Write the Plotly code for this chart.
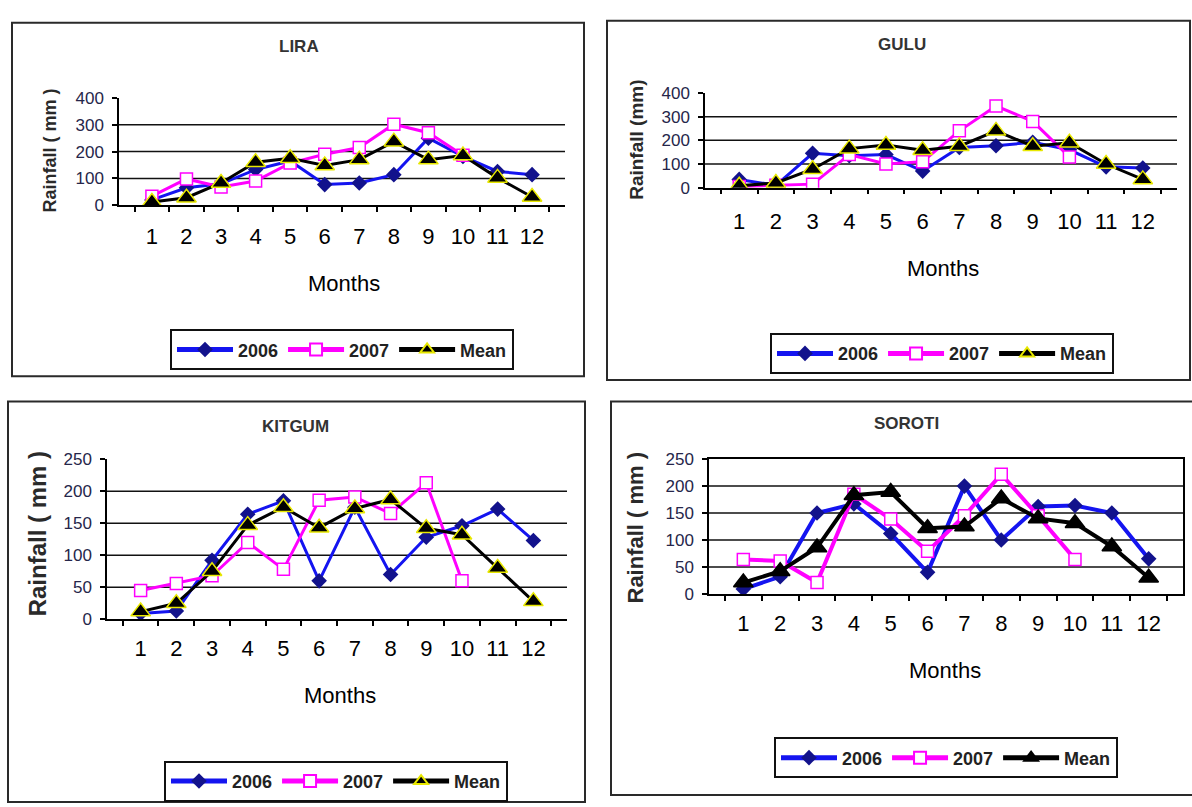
import plotly.graph_objects as go

W, H = 1192, 807

months = [str(m) for m in range(1, 13)]
months_2007 = months[:10]

# Monthly rainfall (mm) per station
lira_2006 = [20, 65, 80, 133, 165, 77, 83, 114, 250, 182, 126, 114]
lira_2007 = [34, 98, 68, 90, 157, 190, 215, 302, 270, 186]
lira_mean = [12, 28, 83, 160, 175, 148, 170, 237, 170, 185, 102, 31]

gulu_2006 = [35, 10, 145, 135, 140, 70, 170, 177, 192, 160, 88, 83]
gulu_2007 = [5, 10, 15, 140, 100, 110, 240, 345, 280, 130]
gulu_mean = [8, 20, 78, 165, 180, 158, 175, 240, 175, 190, 100, 35]

kitgum_2006 = [9, 13, 92, 164, 185, 60, 175, 70, 128, 146, 172, 123]
kitgum_2007 = [45, 56, 68, 120, 78, 186, 191, 165, 213, 60]
kitgum_mean = [12, 25, 75, 147, 175, 143, 173, 187, 142, 132, 80, 28]

soroti_2006 = [9, 32, 150, 167, 112, 40, 200, 100, 162, 164, 150, 65]
soroti_2007 = [64, 61, 21, 185, 139, 79, 145, 222, 145, 64]
soroti_mean = [21, 42, 86, 183, 189, 122, 125, 177, 140, 131, 88, 30]

FONT = "Liberation Sans, Arial, sans-serif"

# Layout of each panel in pixels
panels = [
    dict(name="LIRA", d06=lira_2006, d07=lira_2007, mean=lira_mean,
         ymax=400, dtick=100, grid=[100, 200, 300],
         box=(12, 14, 584, 376), plot=(119, 91, 565, 201),
         title=(299, 38), ytitle="Rainfall ( mm )", ytitle_pos=(50, 145), ytitle_size=18,
         months_pos=(344, 281), legend=(170, 328), xstand=12, frame=False,
         mean_outline="#E8E800", lw=3),
    dict(name="GULU", d06=gulu_2006, d07=gulu_2007, mean=gulu_mean,
         ymax=400, dtick=100, grid=[100, 200, 300],
         box=(607, 12, 1190, 380), plot=(705, 86, 1177, 183),
         title=(902, 36), ytitle="Rainfall (mm)", ytitle_pos=(637, 134), ytitle_size=19,
         months_pos=(943, 266), legend=(770, 332), xstand=14, frame=False,
         mean_outline="#E8E800", lw=3),
    dict(name="KITGUM", d06=kitgum_2006, d07=kitgum_2007, mean=kitgum_mean,
         ymax=250, dtick=50, grid=[50, 100, 150, 200],
         box=(8, 402, 585, 812), plot=(107, 461, 567, 625),
         title=(295, 428), ytitle="Rainfall ( mm )", ytitle_pos=(37, 538), ytitle_size=24,
         months_pos=(340, 703), legend=(164, 770), xstand=10, frame=False,
         mean_outline="#E8E800", lw=3),
    dict(name="SOROTI", d06=soroti_2006, d07=soroti_2007, mean=soroti_mean,
         ymax=250, dtick=50, grid=[50, 100, 150, 200],
         box=(611, 402, 1196, 805), plot=(709, 461, 1183, 599),
         title=(906, 425), ytitle="Rainfall ( mm )", ytitle_pos=(635, 531), ytitle_size=22,
         months_pos=(945, 677), legend=(774, 746), xstand=10, frame=True,
         mean_outline="#000000", lw=4),
]

fig = go.Figure()
shapes = []
annotations = []

for i, p in enumerate(panels):
    sfx = "" if i == 0 else str(i + 1)
    xref, yref = "x" + sfx, "y" + sfx
    leg = "legend" + sfx

    fig.add_trace(go.Scatter(
        x=months, y=p["d06"], name="2006", mode="lines+markers",
        xaxis=xref, yaxis=yref, legend=leg,
        line=dict(color="#1414F0", width=p["lw"]),
        marker=dict(symbol="diamond", size=12, color="#12128C",
                    line=dict(color="#12128C", width=0)),
    ))
    fig.add_trace(go.Scatter(
        x=months_2007, y=p["d07"], name="2007", mode="lines+markers",
        xaxis=xref, yaxis=yref, legend=leg,
        line=dict(color="#FF00FF", width=p["lw"]),
        marker=dict(symbol="square", size=12, color="white",
                    line=dict(color="#FF00FF", width=1.5)),
    ))
    fig.add_trace(go.Scatter(
        x=months, y=p["mean"], name="Mean", mode="lines+markers",
        xaxis=xref, yaxis=yref, legend=leg,
        line=dict(color="black", width=p["lw"]),
        marker=dict(symbol="triangle-up", size=17, color="black",
                    line=dict(color=p["mean_outline"], width=1.5)),
    ))

    x0, y0, x1, y1 = p["plot"]
    xa = dict(
        domain=[x0 / W, x1 / W], anchor=yref, type="category",
        categoryorder="array", categoryarray=months,
        tickson="boundaries", ticks="outside", ticklen=5, tickwidth=1.5,
        tickcolor="black", showline=True, linecolor="black", linewidth=1.5,
        showgrid=False, zeroline=False, fixedrange=True,
        tickfont=dict(family=FONT, size=22, color="black"),
        ticklabelstandoff=p["xstand"] - 1, mirror=p["frame"],
    )
    ya = dict(
        domain=[1 - y1 / H, 1 - y0 / H], anchor=xref,
        range=[0, p["ymax"]], dtick=p["dtick"], tick0=0,
        ticks="outside", ticklen=5, tickwidth=1.5, tickcolor="black",
        showline=True, linecolor="black", linewidth=1.5,
        showgrid=False, zeroline=False, fixedrange=True,
        tickfont=dict(family=FONT, size=17, color="#26264A"),
        ticklabelstandoff=5, mirror=p["frame"],
    )
    fig.update_layout(**{"xaxis" + sfx: xa, "yaxis" + sfx: ya})

    # horizontal gridlines
    for g in p["grid"]:
        shapes.append(dict(type="line", xref=xref + " domain", yref=yref,
                           x0=0, x1=1, y0=g, y1=g, layer="below",
                           line=dict(color="#111111", width=1.5)))

    # panel border
    bx0, by0, bx1, by1 = p["box"]
    shapes.append(dict(type="rect", xref="paper", yref="paper",
                       x0=bx0 / W, x1=bx1 / W, y0=1 - by1 / H, y1=1 - by0 / H,
                       line=dict(color="#2A2A2A", width=2), layer="below"))

    tx, ty = p["title"]
    annotations.append(dict(text=p["name"], x=tx / W, y=1 - ty / H,
                            xref="paper", yref="paper", showarrow=False,
                            xanchor="center", yanchor="middle",
                            font=dict(family=FONT, size=17, color="#333333", weight="bold")))
    yx, yy = p["ytitle_pos"]
    annotations.append(dict(text=p["ytitle"], x=yx / W, y=1 - yy / H,
                            xref="paper", yref="paper", showarrow=False,
                            textangle=-90, xanchor="center", yanchor="middle",
                            font=dict(family=FONT, size=p["ytitle_size"],
                                      color="#2A2A2A", weight="bold")))
    mx, my = p["months_pos"]
    annotations.append(dict(text="Months", x=mx / W, y=1 - my / H,
                            xref="paper", yref="paper", showarrow=False,
                            xanchor="center", yanchor="middle",
                            font=dict(family=FONT, size=22, color="black")))

    lx, ly = p["legend"]
    fig.update_layout(**{leg: dict(
        orientation="h", x=lx / W, y=1 - ly / H, xanchor="left", yanchor="top",
        bgcolor="white", bordercolor="#111111", borderwidth=2,
        itemwidth=56, itemsizing="constant", traceorder="normal",
        font=dict(family=FONT, size=18, color="#222222", weight="bold"),
    )})

fig.update_layout(
    width=W, height=H, margin=dict(l=0, r=0, t=0, b=0),
    paper_bgcolor="white", plot_bgcolor="rgba(0,0,0,0)",
    shapes=shapes, annotations=annotations, showlegend=True,
)

fig.write_html("out.html")
